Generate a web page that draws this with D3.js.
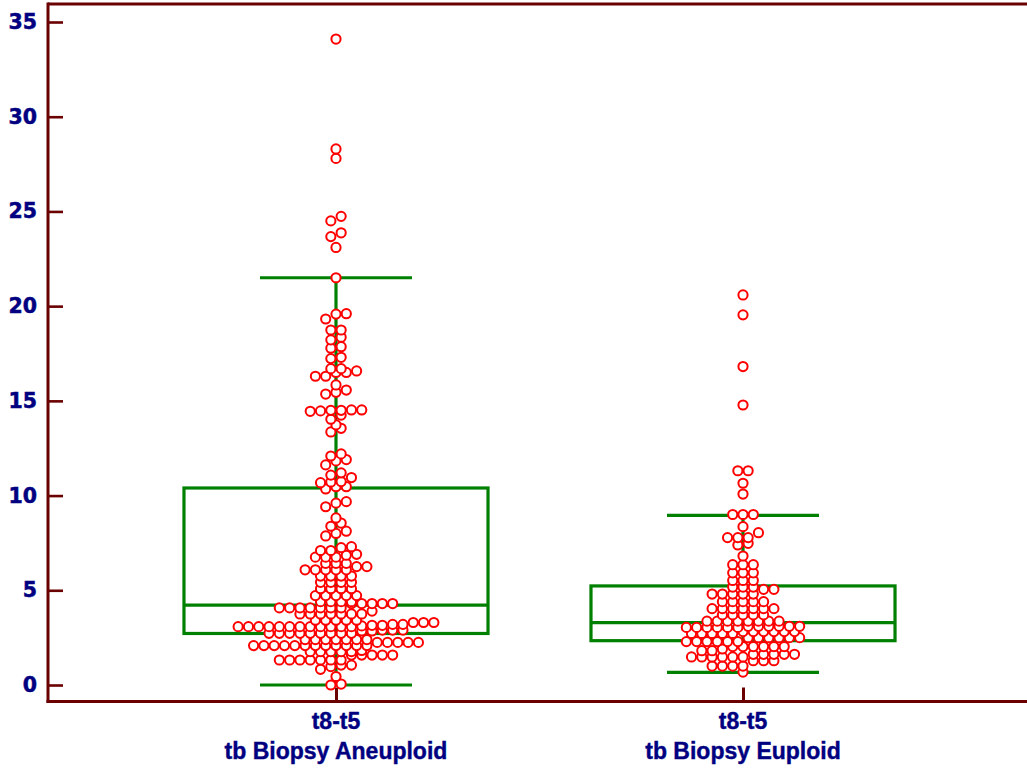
<!DOCTYPE html>
<html><head><meta charset="utf-8">
<script src="https://cdn.jsdelivr.net/npm/d3@7"></script>
<style>html,body{margin:0;padding:0;background:#fff;} svg{display:block;}</style>
</head><body>
<svg id="chart" width="1027" height="771"></svg>
<script>
// ---------- data ----------
const categories = ["tb Biopsy Aneuploid", "tb Biopsy Euploid"];
const variableName = "t8-t5";
const yTicks = [0, 5, 10, 15, 20, 25, 30, 35];

const aneuploid = [
  0.0, 0.05, 0.45,
  0.83, 0.97, 1.05, 1.05,
  1.32, 1.32, 1.32, 1.32, 1.32, 1.32, 1.32, 1.58, 1.58, 1.58, 1.58, 1.58,
  1.76, 1.76, 1.76, 1.76, 1.76, 1.82,
  2.08, 2.08, 2.08, 2.08, 2.08, 2.08, 2.08, 2.08, 2.08, 2.08, 2.08, 2.08, 2.25, 2.25, 2.25, 2.25, 2.25,
  2.4, 2.4, 2.4, 2.4, 2.4, 2.4, 2.4,
  2.73, 2.73, 2.73, 2.73, 2.73, 2.73, 2.73, 2.73, 2.73, 2.85, 2.85, 2.9, 2.9, 2.9,
  3.08, 3.08, 3.08, 3.08, 3.08, 3.08, 3.08, 3.08, 3.08, 3.08, 3.08, 3.08, 3.12, 3.15, 3.15, 3.2, 3.2, 3.3, 3.3, 3.3,
  3.42, 3.42, 3.42, 3.42, 3.42,
  3.75, 3.75, 3.75, 3.75, 3.75, 3.75, 3.75, 3.9,
  4.07, 4.07, 4.07, 4.07, 4.07, 4.07, 4.07, 4.3, 4.3, 4.3, 4.3, 4.3,
  4.4, 4.4, 4.4, 4.4,
  4.72, 4.72, 4.72, 4.72, 4.72,
  5.08, 5.08, 5.08, 5.08,
  5.42, 5.42, 5.42, 5.42,
  5.75, 5.75, 5.75, 5.75,
  6.08, 6.08, 6.08, 6.08, 6.08, 6.25, 6.25,
  6.42, 6.42, 6.42,
  6.75, 6.75, 6.75, 6.85, 6.9,
  7.1, 7.1, 7.25, 7.3,
  7.87, 8.0, 8.12,
  8.38, 8.55,
  8.82,
  9.41, 9.6, 9.68,
  10.35, 10.47, 10.47,
  10.68, 10.72, 10.74, 10.95,
  11.08, 11.2,
  11.62, 11.83, 11.9,
  12.09, 12.2,
  13.36, 13.55,
  13.73,
  14.03, 14.25,
  14.45, 14.47, 14.5, 14.5, 14.52, 14.52,
  15.36, 15.45, 15.57,
  15.84,
  16.3, 16.3, 16.5, 16.5, 16.58,
  16.7, 16.7,
  17.23, 17.3,
  17.78, 17.86,
  18.22, 18.36,
  18.74, 18.74,
  19.32, 19.58, 19.6,
  21.5, 23.1, 23.67, 23.87, 24.5, 24.74, 27.8, 28.3, 34.1
];

const euploid = [
  0.68,
  1.0, 1.0, 1.0, 1.0, 1.28, 1.28, 1.28,
  1.48, 1.48, 1.48, 1.48, 1.48, 1.48, 1.62, 1.62, 1.62, 1.62, 1.62,
  1.81, 1.81, 1.9, 2.03, 2.03, 2.03, 2.03, 2.03, 2.03,
  2.29, 2.29, 2.29, 2.29, 2.29, 2.29, 2.5, 2.5, 2.5, 2.5, 2.5, 2.5,
  2.72, 2.72, 2.72, 2.72, 2.72, 2.82, 2.82, 2.82, 2.82, 2.82, 2.82,
  3.04, 3.04, 3.04, 3.04, 3.04, 3.04, 3.1, 3.1, 3.1, 3.1, 3.1, 3.1,
  3.37, 3.37, 3.37, 3.37, 3.37, 3.37, 3.37, 3.37,
  3.7, 3.7, 3.7, 3.7, 3.7,
  4.03, 4.03, 4.03, 4.03, 4.03, 4.03, 4.03,
  4.4, 4.4, 4.4, 4.4, 4.4,
  4.8, 4.8, 4.8, 4.8, 4.8, 5.05, 5.05,
  5.17, 5.17, 5.17,
  5.52, 5.52, 5.52,
  5.92, 5.92, 5.92,
  6.35, 6.35, 6.35,
  6.81,
  7.39, 7.48,
  7.78, 7.78, 7.78, 8.04,
  8.36,
  9.0, 9.0, 9.0,
  10.08, 10.65, 11.31, 11.31, 14.78, 16.81, 19.54, 20.59
];

// box-and-whisker statistics (one entry per category)
const lowWhisker  = [0.0, 0.67];
const q1          = [2.72, 2.34];
const median      = [4.22, 3.29];
const q3          = [10.4, 5.23];
const highWhisker = [21.5, 8.95];

const seriesValues = [aneuploid, euploid];

// ---------- styling ----------
const W = 1027, H = 771;
const axisColor = "#6b0000";
const textColor = "#000080";
const boxColor = "#008000";
const dotColor = "#ff0000";

const svg = d3.select("#chart");

const y = d3.scaleLinear().domain([0, 35]).range([685, 22]);
const x = d3.scalePoint().domain(categories).range([48, 1031]).padding(0.7076);
const step = x.step();
const boxW = step * 0.747;
const capW = boxW / 2;

// frame lines (top and left, bottom axis)
svg.append("line").attr("x1", 48).attr("x2", W).attr("y1", 4).attr("y2", 4)
  .attr("stroke", axisColor).attr("stroke-width", 3);
svg.append("line").attr("x1", 48).attr("x2", 48).attr("y1", 2.5).attr("y2", 703)
  .attr("stroke", axisColor).attr("stroke-width", 3);
svg.append("line").attr("x1", 46.5).attr("x2", W).attr("y1", 701.5).attr("y2", 701.5)
  .attr("stroke", axisColor).attr("stroke-width", 3);

// y axis ticks
const yAxis = svg.append("g").attr("transform", "translate(48,0)")
  .call(d3.axisLeft(y).tickValues(yTicks).tickSize(-15).tickPadding(11).tickFormat(d3.format("d")));
yAxis.select(".domain").remove();
yAxis.selectAll(".tick line").attr("stroke", axisColor).attr("stroke-width", 2.6);
yAxis.selectAll(".tick text")
  .attr("fill", textColor)
  .attr("stroke", textColor).attr("stroke-width", 0.5)
  .style("font-family", "'DejaVu Sans', sans-serif")
  .style("font-weight", "bold")
  .style("font-size", "20.5px");

// x axis ticks
const xAxis = svg.append("g").attr("transform", "translate(0,701.5)")
  .call(d3.axisBottom(x).tickSize(-14).tickFormat(""));
xAxis.select(".domain").remove();
xAxis.selectAll(".tick line").attr("stroke", axisColor).attr("stroke-width", 3);

// x labels (two lines)
const lbl = svg.append("g").selectAll("text").data(categories).join("text")
  .attr("text-anchor", "middle")
  .attr("fill", textColor)
  .attr("stroke", textColor).attr("stroke-width", 0.4)
  .style("font-family", "'Liberation Sans', Arial, sans-serif")
  .style("font-weight", "bold")
  .style("font-size", "23px");
lbl.append("tspan").attr("x", d => x(d)).attr("y", 729).text(variableName);
lbl.append("tspan").attr("x", d => x(d)).attr("y", 759).text(d => d);

// boxes
const boxes = svg.append("g").attr("fill", "none").attr("stroke", boxColor).attr("stroke-width", 3.2);
categories.forEach((c, i) => {
  const cx = x(c);
  boxes.append("line").attr("x1", cx).attr("x2", cx).attr("y1", y(highWhisker[i])).attr("y2", y(lowWhisker[i]));
  boxes.append("rect").attr("x", cx - boxW / 2).attr("width", boxW)
    .attr("y", y(q3[i])).attr("height", y(q1[i]) - y(q3[i]))
    .attr("fill", "none");
  boxes.append("line").attr("x1", cx - boxW / 2).attr("x2", cx + boxW / 2).attr("y1", y(median[i])).attr("y2", y(median[i]));
  boxes.append("line").attr("x1", cx - capW / 2).attr("x2", cx + capW / 2).attr("y1", y(highWhisker[i])).attr("y2", y(highWhisker[i]));
  boxes.append("line").attr("x1", cx - capW / 2).attr("x2", cx + capW / 2).attr("y1", y(lowWhisker[i])).attr("y2", y(lowWhisker[i]));
});

// dot layout: sort, group near-equal values into rows, centre each row
function swarm(values, cx, spacing, tol) {
  const sorted = values.slice().sort((a, b) => a - b);
  const groups = [];
  let cur = null;
  for (const v of sorted) {
    if (cur && v - cur.start < tol - 1e-9) cur.items.push(v);
    else { cur = { start: v, items: [v] }; groups.push(cur); }
  }
  const pts = [];
  groups.forEach(g => {
    const n = g.items.length;
    g.items.forEach((v, i) => pts.push({ v, x: cx + (i - (n - 1) / 2) * spacing, y: y(v) }));
  });
  return pts;
}

categories.forEach((c, i) => {
  const pts = swarm(seriesValues[i], x(c), 10.3, 0.3);
  svg.append("g").selectAll("circle").data(pts).join("circle")
    .attr("cx", d => d.x).attr("cy", d => d.y).attr("r", 4.6)
    .attr("fill", "#fff").attr("stroke", dotColor).attr("stroke-width", 2);
});
</script>
</body></html>
